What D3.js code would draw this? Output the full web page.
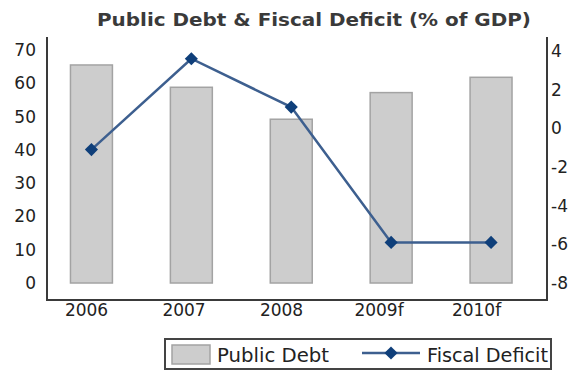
<!DOCTYPE html>
<html>
<head>
<meta charset="utf-8">
<script src="https://cdn.jsdelivr.net/npm/d3@7/dist/d3.min.js"></script>
<style>
  html, body { margin: 0; padding: 0; background: #fff; }
  svg { display: block; font-family: "DejaVu Sans", sans-serif; }
</style>
</head>
<body>
<svg id="chart" width="572" height="371"></svg>
<script>
// Years on the category axis
const categories = ["2006", "2007", "2008", "2009f", "2010f"];
// Public debt, % of GDP (bars, left axis)
const publicDebt = [65.5, 58.8, 49.2, 57.2, 61.8];
// Fiscal deficit, % of GDP (line, right axis)
const fiscalDeficit = [-1.1, 3.6, 1.1, -5.9, -5.9];
// Tick labels
const leftTicks = [0, 10, 20, 30, 40, 50, 60, 70];
const rightTicks = [-8, -6, -4, -2, 0, 2, 4];

const svg = d3.select("#chart");

const frame = { left: 47, right: 547, top: 37, bottom: 300 };

const x = d3.scaleBand()
  .domain(categories)
  .range([41.5, 541])
  .paddingInner(0.58)
  .paddingOuter(0.29);

const xLabel = d3.scalePoint()
  .domain(categories)
  .range([86, 476]);

const yLeft = d3.scaleLinear().domain([0, 70]).range([283, 50]);
const yRight = d3.scaleLinear().domain([-8, 4]).range([283, 51]);

// Title
svg.append("text")
  .attr("x", 314)
  .attr("y", 26)
  .attr("text-anchor", "middle")
  .attr("font-size", 18)
  .attr("font-weight", "bold")
  .attr("fill", "#3a3a3a")
  .attr("textLength", 434)
  .attr("lengthAdjust", "spacingAndGlyphs")
  .text("Public Debt & Fiscal Deficit (% of GDP)");

// Bars
svg.append("g")
  .selectAll("rect")
  .data(publicDebt)
  .join("rect")
  .attr("x", (d, i) => x(categories[i]))
  .attr("y", d => yLeft(d))
  .attr("width", x.bandwidth())
  .attr("height", d => yLeft(0) - yLeft(d))
  .attr("fill", "#cdcdcd")
  .attr("stroke", "#a3a3a3")
  .attr("stroke-width", 1.5);

// Frame lines: left axis, right axis, baseline
const frameG = svg.append("g").attr("stroke", "#3a3a3a").attr("stroke-width", 2);
frameG.append("line").attr("x1", frame.left).attr("x2", frame.left).attr("y1", frame.top).attr("y2", frame.bottom + 1);
frameG.append("line").attr("x1", frame.right).attr("x2", frame.right).attr("y1", frame.top).attr("y2", frame.bottom + 1);
frameG.append("line").attr("x1", frame.left).attr("x2", frame.right).attr("y1", frame.bottom).attr("y2", frame.bottom);

const styleLabels = g => g.selectAll("text")
  .attr("font-size", 17)
  .attr("fill", "#222")
  .attr("font-family", "DejaVu Sans, sans-serif");

// Left axis labels
const leftAxis = d3.axisLeft(yLeft).tickValues(leftTicks).tickSize(0).tickPadding(11);
svg.append("g")
  .attr("transform", `translate(${frame.left},0)`)
  .call(leftAxis)
  .call(g => g.select(".domain").remove())
  .call(styleLabels);

// Right axis labels
const rightAxis = d3.axisRight(yRight).tickValues(rightTicks).tickSize(0).tickPadding(4)
  .tickFormat(d => d < 0 ? "-" + Math.abs(d) : String(d));
svg.append("g")
  .attr("transform", `translate(${frame.right},0)`)
  .call(rightAxis)
  .call(g => g.select(".domain").remove())
  .call(styleLabels);

// Category labels
const bottomAxis = d3.axisBottom(xLabel).tickSize(0).tickPadding(4);
svg.append("g")
  .attr("transform", `translate(0,${frame.bottom})`)
  .call(bottomAxis)
  .call(g => g.select(".domain").remove())
  .call(styleLabels);

// Fiscal deficit line
const cx = i => x(categories[i]) + x.bandwidth() / 2;
const line = d3.line()
  .x((d, i) => cx(i))
  .y(d => yRight(d));

svg.append("path")
  .datum(fiscalDeficit)
  .attr("d", line)
  .attr("fill", "none")
  .attr("stroke", "#3d5f8f")
  .attr("stroke-width", 2.5);

const diamond = d3.symbol().type(d3.symbolDiamond2).size(110);
svg.append("g")
  .selectAll("path")
  .data(fiscalDeficit)
  .join("path")
  .attr("transform", (d, i) => `translate(${cx(i)},${yRight(d)})`)
  .attr("d", diamond)
  .attr("fill", "#0f3f7a");

// Legend
const legend = svg.append("g");
legend.append("rect")
  .attr("x", 165).attr("y", 339).attr("width", 386).attr("height", 30)
  .attr("fill", "#fff").attr("stroke", "#444").attr("stroke-width", 2);
legend.append("rect")
  .attr("x", 172).attr("y", 345).attr("width", 38).attr("height", 19)
  .attr("fill", "#cdcdcd").attr("stroke", "#a3a3a3").attr("stroke-width", 1.5);
legend.append("text")
  .attr("x", 217).attr("y", 362)
  .attr("font-size", 19).attr("fill", "#222")
  .attr("textLength", 112)
  .attr("lengthAdjust", "spacingAndGlyphs")
  .text("Public Debt");
legend.append("line")
  .attr("x1", 362).attr("x2", 420).attr("y1", 353).attr("y2", 353)
  .attr("stroke", "#3d5f8f").attr("stroke-width", 2.5);
legend.append("path")
  .attr("transform", "translate(391,353)")
  .attr("d", diamond)
  .attr("fill", "#0f3f7a");
legend.append("text")
  .attr("x", 427).attr("y", 362)
  .attr("font-size", 19).attr("fill", "#222")
  .attr("textLength", 121)
  .attr("lengthAdjust", "spacingAndGlyphs")
  .text("Fiscal Deficit");
</script>
</body>
</html>
